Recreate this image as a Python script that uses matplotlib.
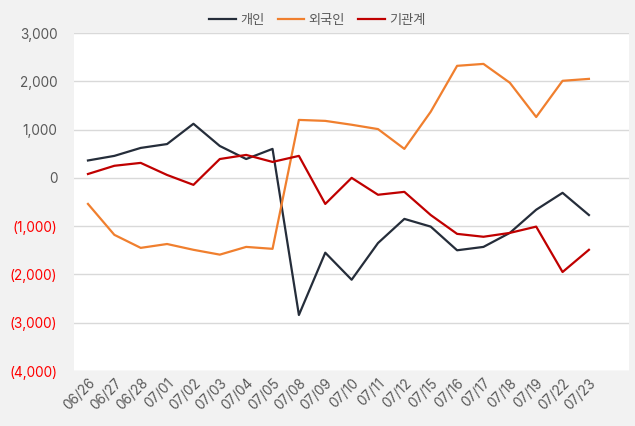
import matplotlib
matplotlib.use('Agg')
import matplotlib.pyplot as plt
from matplotlib.ticker import FuncFormatter

plt.rcParams['font.family'] = ['Inter', 'Noto Sans CJK KR', 'DejaVu Sans']

dates = ['06/26', '06/27', '06/28', '07/01', '07/02', '07/03', '07/04', '07/05',
         '07/08', '07/09', '07/10', '07/11', '07/12', '07/15', '07/16', '07/17',
         '07/18', '07/19', '07/22', '07/23']

individual = [360, 455, 620, 700, 1120, 660, 390, 600,
              -2840, -1550, -2110, -1350, -850, -1010, -1500, -1430,
              -1140, -660, -310, -770]
foreign = [-540, -1180, -1450, -1370, -1490, -1590, -1430, -1470,
           1200, 1180, 1100, 1010, 600, 1370, 2320, 2360,
           1970, 1260, 2010, 2050]
institution = [80, 250, 310, 60, -145, 390, 475, 330,
               455, -540, 0, -350, -290, -770, -1160, -1220,
               -1140, -1010, -1950, -1490]

series_names = ['개인', '외국인', '기관계']
colors = ['#252d3a', '#f07f2e', '#c00000']

fig = plt.figure(figsize=(6.35, 4.26), dpi=100, facecolor='#f2f2f2')
ax = fig.add_axes([74 / 635, 1 - 371 / 426, (629 - 74) / 635, (371 - 33) / 426])
ax.set_facecolor('white')

x = range(len(dates))
for vals, name, c in zip([individual, foreign, institution], series_names, colors):
    ax.plot(x, vals, color=c, linewidth=1.6, label=name)

ax.set_ylim(-4000, 3000)
ax.set_yticks(range(-4000, 3001, 1000))
ax.set_xlim(-0.53, len(dates) - 1 + 1.52)


def fmt(v, pos):
    if v < 0:
        return '({:,.0f})'.format(-v)
    return '{:,.0f}'.format(v)


ax.yaxis.set_major_formatter(FuncFormatter(fmt))
ax.grid(axis='y', color='#d9d9d9', linewidth=1)
ax.set_axisbelow(True)
for s in ax.spines.values():
    s.set_visible(False)
ax.tick_params(axis='both', length=0, labelsize=9.8, colors='#595959')
ax.tick_params(axis='y', pad=12)
for lbl, v in zip(ax.get_yticklabels(), ax.get_yticks()):
    if v < 0:
        lbl.set_color('#ff0000')

ax.set_xticks(list(x))
ax.set_xticklabels(dates, rotation=45, ha='right', rotation_mode='anchor', fontsize=9.8)

leg = fig.legend(loc='upper center', bbox_to_anchor=(0.5, 0.993), ncol=3, frameon=False,
                 fontsize=9.5, handlelength=2.0, columnspacing=1.0, handletextpad=0.35)
for t in leg.get_texts():
    t.set_color('#595959')

fig.savefig('out.png', dpi=100, facecolor=fig.get_facecolor())
